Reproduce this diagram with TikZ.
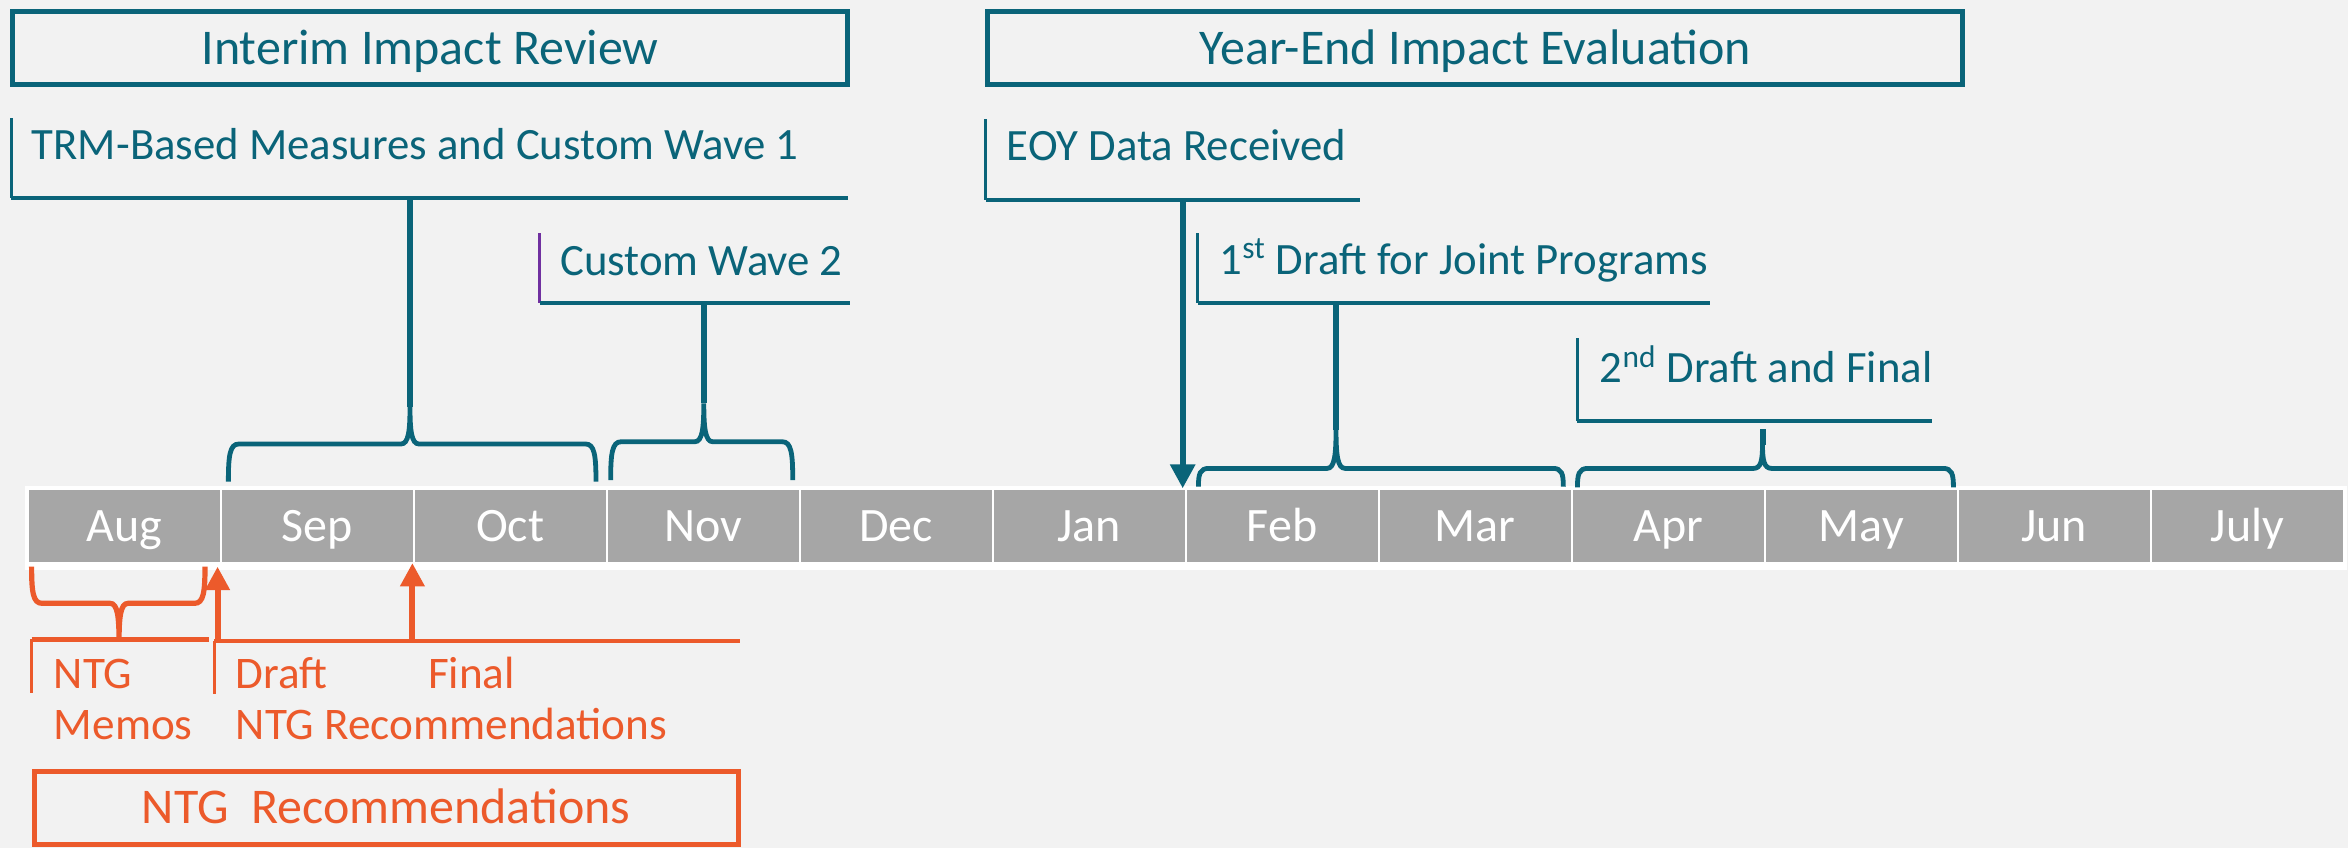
\documentclass[tikz,border=0pt]{standalone}
\usepackage{fontspec}
\setmainfont{Carlito}
\usetikzlibrary{arrows.meta}
\definecolor{tealc}{HTML}{0A6479}
\definecolor{orng}{HTML}{EC5A2B}
\definecolor{bgc}{HTML}{F2F2F2}
\definecolor{cellgray}{HTML}{A6A6A6}
\definecolor{purp}{HTML}{7030A0}
% brace: [style]{xL}{xR}{xm}{yh}{yb}{yt}
\newcommand\dobrace[7][]{%
  \draw[#1] (#2,#6) .. controls (#2,{#5+0.3*(#6-#5)}) and ({#2+1},#5) .. ({#2+7},#5)
   -- ({#4-6},#5) .. controls ({#4-1},#5) and (#4,{#5+0.35*(#7-#5)}) .. (#4,#7)
   .. controls (#4,{#5+0.35*(#7-#5)}) and ({#4+1},#5) .. ({#4+6},#5)
   -- ({#3-7},#5) .. controls ({#3-1},#5) and (#3,{#5+0.3*(#6-#5)}) .. (#3,#6);}
\begin{document}
\begin{tikzpicture}[x=0.7487pt,y=-0.7487pt,
  lbl/.style={anchor=base west, inner sep=0pt, text=tealc, font=\fontsize{22.4}{26}\selectfont},
  olbl/.style={anchor=base west, inner sep=0pt, text=orng, font=\fontsize{22.6}{26}\selectfont},
  titlebox/.style={draw=tealc, line width=2.5pt, text=tealc, font=\fontsize{25}{30}\selectfont,
    minimum height=36.6pt, text height=15.8pt, text depth=0pt, inner sep=0pt},
  ntgbox/.style={draw=orng, line width=2.5pt, text=orng, font=\fontsize{25}{30}\selectfont,
    minimum width=352pt, minimum height=36.2pt, text height=15.8pt, text depth=0pt, inner sep=0pt},
  month/.style={fill=cellgray, draw=white, line width=1pt, text=white,
    font=\fontsize{24}{28}\selectfont, minimum width=96.51pt, minimum height=36.69pt,
    text height=15.2pt, text depth=0pt, inner sep=0pt},
  tv/.style={draw=tealc, line width=1.5pt},
  th/.style={draw=tealc, line width=2pt},
  stem/.style={draw=tealc, line width=3pt},
  tbrace/.style={draw=tealc, line width=2.4pt},
  ov/.style={draw=orng, line width=1.7pt},
  oh/.style={draw=orng, line width=2.2pt},
  obrace/.style={draw=orng, line width=2.6pt},
  oarrow/.style={draw=orng, line width=3pt, -{Triangle[length=11.7pt,width=11.7pt]}},
  tarrow/.style={draw=tealc, line width=3pt, -{Triangle[length=12pt,width=12pt]}}
]
\fill[bgc] (0,0) rectangle (1568,566);
\useasboundingbox (0,0) rectangle (1568,566);

% title boxes
\node[titlebox, minimum width=417.3pt] (interim) at (287.15,32.25) {Interim Impact Review};
\node[titlebox, minimum width=487.3pt] (yearend) at (985.2,32.25) {Year-End Impact Evaluation};

% month bar
\fill[white] (17,324.5) rectangle (1567,380.7);
\foreach \m [count=\i] in {Aug,Sep,Oct,Nov,Dec,Jan,Feb,Mar,Apr,May,Jun,July}{
  \node[month] (m\i) at ({18.4+128.9*(\i-0.5)},351.3) {\m};
}

% TRM bracket
\node[lbl] (trm) at (21,106.4) {TRM-Based Measures and Custom Wave 1};
\coordinate (trmTop) at (7.5,79);
\coordinate (trmCorner) at (7.5,132.5);
\coordinate (trmEnd) at (566,132.5);
\coordinate (trmStem) at (273.8,132.5);
\coordinate (braceAtip) at (273.8,271.6);
\draw[tv] (trmTop) -- (trmCorner);
\draw[th] (trmCorner) -- (trmEnd);
\draw[stem] (trmStem) -- (braceAtip);
\dobrace[tbrace]{152.5}{398}{273.8}{296.5}{321.7}{271.6}

% Custom Wave 2
\node[lbl] (cw2) at (373.8,184.3) {Custom Wave 2};
\coordinate (cwTop) at (360.4,155.8);
\coordinate (cwCorner) at (360.4,202.6);
\coordinate (cwEnd) at (567.4,202.6);
\coordinate (cwStem) at (470,202.6);
\coordinate (braceBtip) at (470,269.4);
\draw[draw=purp, line width=1.5pt] (cwTop) -- (cwCorner);
\draw[th] (cwCorner) -- (cwEnd);
\draw[stem] (cwStem) -- (braceBtip);
\dobrace[tbrace]{407.8}{529.4}{470}{295}{320.6}{269.4}

% EOY
\node[lbl] (eoy) at (672.2,107.3) {EOY Data Received};
\coordinate (eoyTop) at (658.2,79.7);
\coordinate (eoyCorner) at (658.2,133.6);
\coordinate (eoyEnd) at (907.9,133.6);
\coordinate (eoyStem) at (789.8,133.6);
\draw[tv] (eoyTop) -- (eoyCorner);
\draw[th] (eoyCorner) -- (eoyEnd);
\draw[tarrow] (eoyStem) -- (eoyStem |- m6.north);

% 1st draft
\node[lbl] (first) at (814.2,183) {1\textsuperscript{st} Draft for Joint Programs};
\coordinate (fdTop) at (799.7,155.8);
\coordinate (fdCorner) at (799.7,202.6);
\coordinate (fdEnd) at (1142.1,202.6);
\coordinate (fdStem) at (892.2,202.6);
\coordinate (braceCtip) at (892.2,287);
\draw[tv] (fdTop) -- (fdCorner);
\draw[th] (fdCorner) -- (fdEnd);
\draw[stem] (fdStem) -- (braceCtip);
\dobrace[tbrace]{800.3}{1044}{892.2}{312.8}{325}{287}

% 2nd draft
\node[lbl] (second) at (1068.1,255.3) {2\textsuperscript{nd} Draft and Final};
\coordinate (sdTop) at (1053.2,225.8);
\coordinate (sdCorner) at (1053.2,281);
\coordinate (sdEnd) at (1290.5,281);
\coordinate (sdStem) at (1177,286.7);
\coordinate (braceDtip) at (1177,297);
\draw[tv] (sdTop) -- (sdCorner);
\draw[th] (sdCorner) -- (sdEnd);
\draw[stem] (sdStem) -- (braceDtip);
\dobrace[tbrace]{1053.4}{1304.5}{1177}{312.8}{325.5}{297}

% orange part
\dobrace[obrace]{21.1}{136.9}{79.5}{402.9}{378.4}{428.5}
\coordinate (nmCorner) at (21.1,427);
\coordinate (nmEnd) at (139.8,427);
\coordinate (nmBottom) at (21.1,462.6);
\draw[oh] (nmCorner) -- (nmEnd);
\draw[ov] (nmCorner) -- (nmBottom);
\node[olbl] (ntg) at (35.7,459.7) {NTG};
\node[olbl] (memos) at (35.7,493.8) {Memos};

\coordinate (rcCorner) at (143.1,427.9);
\coordinate (rcEnd) at (494.5,427.9);
\coordinate (rcBottom) at (143.1,463.5);
\draw[oh] (rcCorner) -- (rcEnd);
\draw[ov] (rcCorner) -- (rcBottom);
\coordinate (arrA) at (145.3,427.9);
\coordinate (arrAtip) at (145.3,378.4);
\coordinate (arrB) at (275.4,427.9);
\coordinate (arrBtip) at (275.4,376);
\draw[oarrow] (arrA) -- (arrAtip);
\draw[oarrow] (arrB) -- (arrBtip);
\node[olbl] (draft) at (157.2,459.7) {Draft};
\node[olbl] (final) at (285.6,459.7) {Final};
\node[olbl] (ntgrec) at (157.2,493.8) {NTG Recommendations};

\node[ntgbox] (ntgbox) at (257.8,539.6) {NTG~~Recommendations};
\end{tikzpicture}
\end{document}
